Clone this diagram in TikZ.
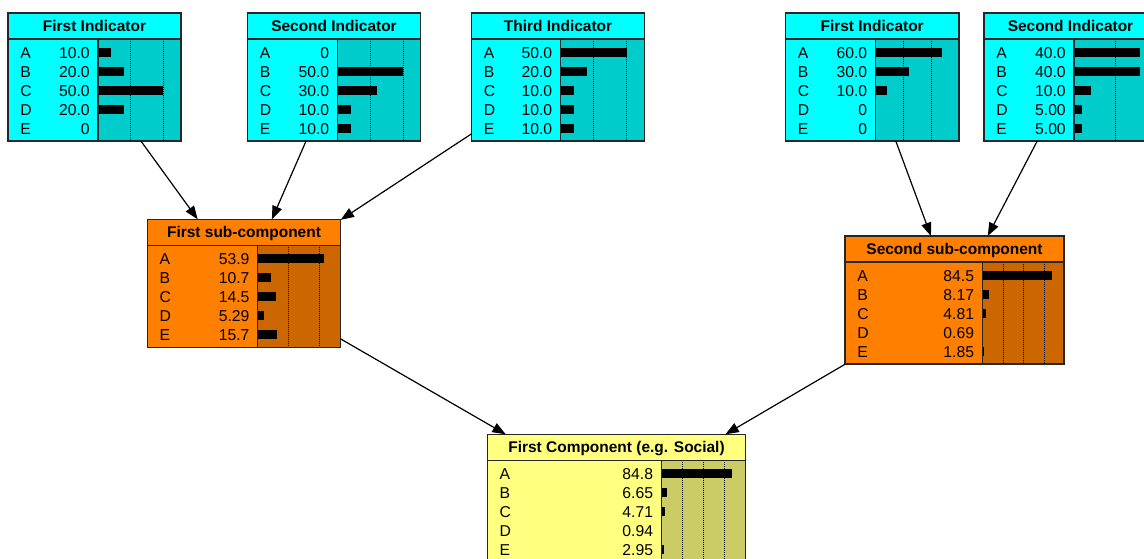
\documentclass[tikz,border=0pt]{standalone}
\usepackage{fontspec}
\setmainfont{Liberation Sans}
\usepackage{tikz}
\usetikzlibrary{positioning,arrows.meta}

\definecolor{ciano}{HTML}{00FFFF}
\definecolor{cianobar}{HTML}{00CCCC}
\definecolor{arancio}{HTML}{FF8000}
\definecolor{aranciobar}{HTML}{CC6600}
\definecolor{giallo}{HTML}{FFFF80}
\definecolor{giallobar}{HTML}{CCCC66}

\tikzset{
  scatola/.style={rectangle, inner sep=0pt, outer sep=0pt, anchor=north west},
  bordo/.style={line width=1.1pt, draw=black!85},
  griglia/.style={line width=0.75pt, dash pattern=on 0.75pt off 0.75pt},
  titolo/.style={font=\bfseries\fontsize{11.6}{13}\selectfont, inner sep=0pt, text height=8.3pt, text depth=0pt},
  stato/.style={font=\fontsize{11.8}{13}\selectfont, inner sep=0pt, text height=8.3pt, text depth=0pt, anchor=west},
  valore/.style={stato, anchor=east},
  freccia/.style={-{Triangle[length=10pt,width=7.5pt]}, line width=0.9pt},
}

% #1 nome, #2 angolo, #3 larghezza, #4 colonna barre, #5 scala, #6 colore, #7 titolo, #8 stati
\newcommand{\nodo}[8]{%
  \node[scatola, fill=#6, minimum width=#3*0.75pt, minimum height=96pt] (#1) at (#2) {};
  \begin{scope}[shift={(#1.north west)}]
    \begin{scope}
      \clip (#4,26) rectangle (#3,128);
      \fill[#6bar] (#4,26) rectangle (#3,128);
      \foreach \d in {25,50,75}
        \draw[griglia] ({#4+\d*#5},26) -- ({#4+\d*#5},128);
    \end{scope}
    \node[titolo] (#1-titolo) at (#3/2,13) {#7};
    \foreach \s/\v [count=\i from 0] in {#8} {
      \node[stato] (#1-\s) at (12,39.5+19*\i) {\s};
      \node[valore] (#1-v\s) at (#4-8,39.5+19*\i) {\v};
      \fill (#4,35+19*\i) rectangle ++(\v*#5,9);
    }
    \draw[bordo] (0,26) -- (#3,26) (#4,26) -- (#4,128);
  \end{scope}
  \draw[bordo] (#1.north west) rectangle (#1.south east);
}

\begin{document}
\begin{tikzpicture}[x=0.75pt, y=-0.75pt]
  \useasboundingbox (0,0) rectangle (1144,558);

  % Indicatori
  \nodo{ind1}{8,13}{173}{90}{1.3}{ciano}{First Indicator}
    {A/10.0, B/20.0, C/50.0, D/20.0, E/0}
  \nodo{ind2}{247.5,13}{173}{90}{1.31}{ciano}{Second Indicator}
    {A/0, B/50.0, C/30.0, D/10.0, E/10.0}
  \nodo{ind3}{471.5,13}{173}{89}{1.32}{ciano}{Third Indicator}
    {A/50.0, B/20.0, C/10.0, D/10.0, E/10.0}
  \nodo{ind4}{785.5,13}{173.3}{90}{1.11}{ciano}{First Indicator}
    {A/60.0, B/30.0, C/10.0, D/0, E/0}
  \nodo{ind5}{984,13}{173}{90}{1.65}{ciano}{Second Indicator}
    {A/40.0, B/40.0, C/10.0, D/5.00, E/5.00}

  % Sotto-componenti
  \nodo{sub1}{147.3,219.3}{193.4}{110.4}{1.23}{arancio}{First sub-component}
    {A/53.9, B/10.7, C/14.5, D/5.29, E/15.7}
  \nodo{sub2}{845,236}{219}{137.3}{0.83}{arancio}{Second sub-component}
    {A/84.5, B/8.17, C/4.81, D/0.69, E/1.85}

  % Componente
  \nodo{comp}{487.3,434.3}{258.4}{174}{0.836}{giallo}{First Component (e.g. Social)}
    {A/84.8, B/6.65, C/4.71, D/0.94, E/2.95}

  \draw[freccia] (ind1) -- (sub1);
  \draw[freccia] (ind2) -- (sub1);
  \draw[freccia] (ind3) -- (sub1);
  \draw[freccia] (ind4) -- (sub2);
  \draw[freccia] (ind5) -- (sub2);
  \draw[freccia] (sub1) -- (comp);
  \draw[freccia] (sub2) -- (comp);
\end{tikzpicture}
\end{document}
